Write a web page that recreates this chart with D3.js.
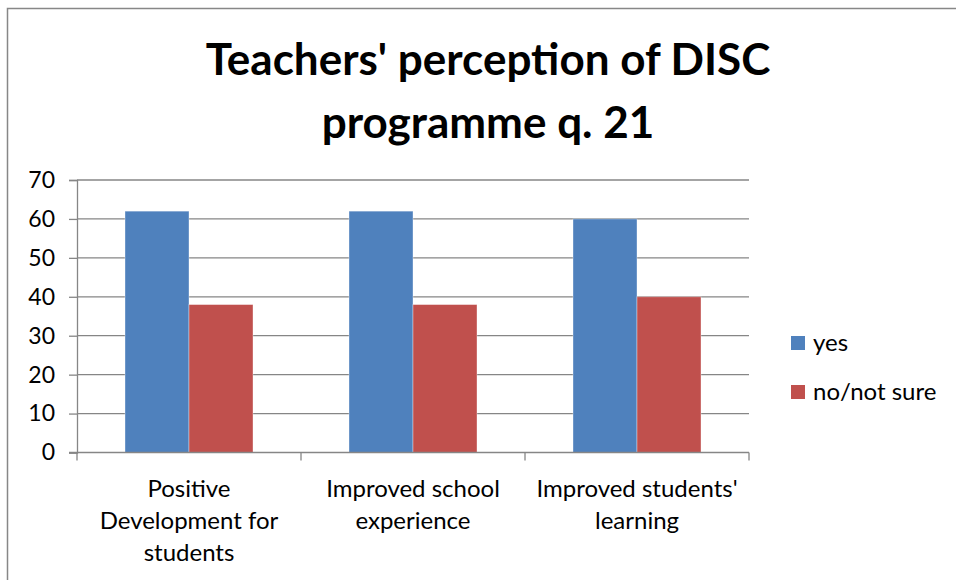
<!DOCTYPE html>
<html>
<head>
<meta charset="utf-8">
<script src="https://cdn.jsdelivr.net/npm/d3@7"></script>
<style>
  body { margin: 0; background: #fff; }
  text { font-family: Lato, "Liberation Sans", sans-serif; fill: #000; }
</style>
</head>
<body>
<svg id="chart" width="956" height="580"></svg>
<script>
var titleLines = ["Teachers' perception of DISC", "programme q. 21"];
var categories = ["Positive Development for students", "Improved school experience", "Improved students' learning"];
var categoryLines = [["Positive", "Development for", "students"], ["Improved school", "experience"], ["Improved students'", "learning"]];
var seriesNames = ["yes", "no/not sure"];
var yesValues = [62, 62, 60];
var noValues = [38, 38, 40];
var yTicks = [0, 10, 20, 30, 40, 50, 60, 70];
var colors = ["#4f81bd", "#c0504d"];

(function() {
var svg = d3.select("#chart");
var plotLeft = 77, plotRight = 749, plotTop = 180, plotBottom = 452.5;

// outer frame of the chart
svg.append("rect")
    .attr("x", 7.5).attr("y", 8.5)
    .attr("width", 2000).attr("height", 2000)
    .style("fill", "none").style("stroke", "#878787").style("stroke-width", 1.5);

svg.selectAll(".title")
    .data(titleLines)
    .enter().append("text")
    .attr("class", "title")
    .attr("x", 488)
    .attr("y", function(d, i) { return 75 + i * 63; })
    .style("text-anchor", "middle")
    .style("font-weight", "bold")
    .style("font-size", "44px")
    .text(function(d) { return d; });

var x0 = d3.scaleBand().domain(categories).range([plotLeft, plotRight]);
var x1 = d3.scaleBand().domain(seriesNames).range([0, x0.bandwidth()]).paddingOuter(0.75);
var y = d3.scaleLinear().domain([0, 70]).range([plotBottom, plotTop]);

// gridlines
svg.selectAll(".grid")
    .data(yTicks.slice(1))
    .enter().append("line")
    .attr("class", "grid")
    .attr("x1", plotLeft).attr("x2", plotRight)
    .attr("y1", function(d) { return y(d); })
    .attr("y2", function(d) { return y(d); })
    .style("stroke", "#868686").style("stroke-width", 1.3);

var yAxis = d3.axisLeft(y).tickValues(yTicks).tickSize(8).tickPadding(14);
var gy = svg.append("g")
    .attr("transform", "translate(" + plotLeft + ",0)")
    .call(yAxis);
gy.select(".domain").style("stroke", "#868686").style("stroke-width", 1.3);
gy.selectAll(".tick line").style("stroke", "#868686").style("stroke-width", 1.3);
gy.selectAll(".tick text").style("font-size", "23px").style("font-family", "Lato, sans-serif").attr("fill", "#000");

var data = categories.map(function(c, i) {
    return {cat: c, values: [yesValues[i], noValues[i]]};
});

var groups = svg.selectAll(".group")
    .data(data)
    .enter().append("g")
    .attr("class", "group")
    .attr("transform", function(d) { return "translate(" + x0(d.cat) + ",0)"; });

groups.selectAll("rect")
    .data(function(d) { return d.values.map(function(v, j) { return {key: seriesNames[j], value: v, j: j}; }); })
    .enter().append("rect")
    .attr("x", function(d) { return x1(d.key); })
    .attr("width", x1.bandwidth())
    .attr("y", function(d) { return y(d.value); })
    .attr("height", function(d) { return plotBottom - y(d.value); })
    .style("fill", function(d) { return colors[d.j]; })
    .style("stroke", "rgba(255,255,255,0.45)")
    .style("stroke-width", 0.8);

// category axis
svg.append("line")
    .attr("x1", plotLeft - 8).attr("x2", plotRight)
    .attr("y1", plotBottom).attr("y2", plotBottom)
    .style("stroke", "#868686").style("stroke-width", 1.3);

var boundaries = categories.map(function(c) { return x0(c); }).concat([plotRight]);
svg.selectAll(".xtick")
    .data(boundaries)
    .enter().append("line")
    .attr("class", "xtick")
    .attr("x1", function(d) { return d; }).attr("x2", function(d) { return d; })
    .attr("y1", plotBottom).attr("y2", plotBottom + 8)
    .style("stroke", "#868686").style("stroke-width", 1.3);

categories.forEach(function(c, i) {
    svg.selectAll(".cl" + i)
        .data(categoryLines[i])
        .enter().append("text")
        .attr("class", "cl" + i)
        .attr("x", x0(c) + x0.bandwidth() / 2)
        .attr("y", function(d, k) { return 497 + k * 32; })
        .style("text-anchor", "middle")
        .style("font-size", "24px")
        .text(function(d) { return d; });
});

var legend = svg.selectAll(".legend")
    .data(seriesNames)
    .enter().append("g")
    .attr("class", "legend")
    .attr("transform", function(d, i) { return "translate(791," + (336 + i * 49) + ")"; });

legend.append("rect")
    .attr("width", 14).attr("height", 14)
    .style("fill", function(d, i) { return colors[i]; });

legend.append("text")
    .attr("x", 22)
    .attr("y", 7)
    .attr("dy", ".35em")
    .style("font-size", "24px")
    .text(function(d) { return d; });
})();
</script>
</body>
</html>
